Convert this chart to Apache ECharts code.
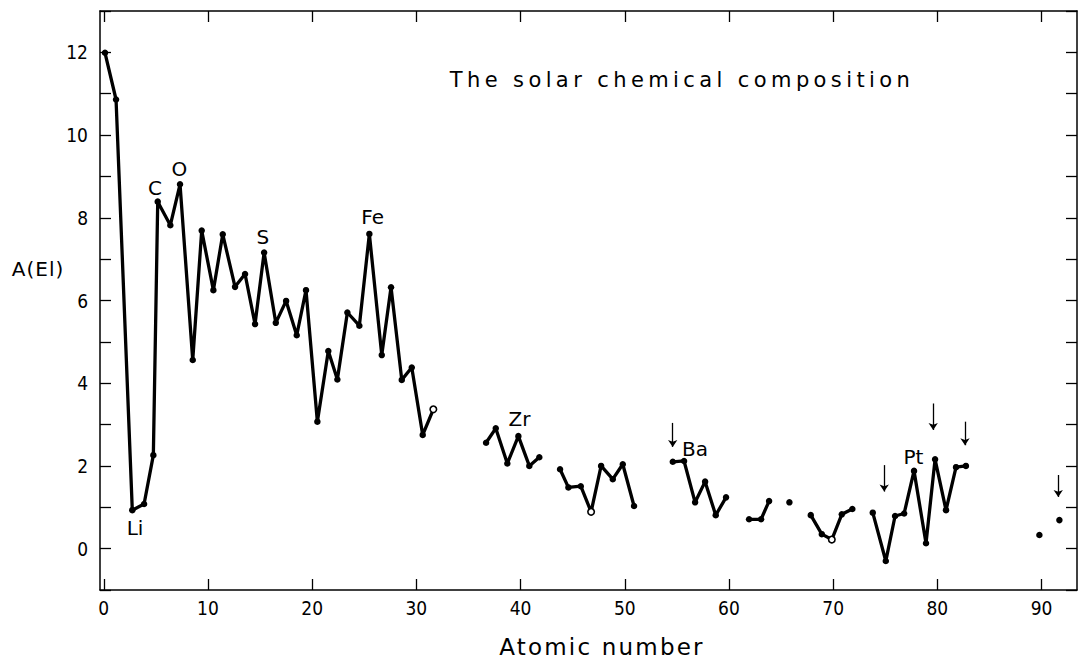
<!DOCTYPE html>
<html>
<head>
<meta charset="utf-8">
<script src="https://cdn.jsdelivr.net/npm/echarts@6/dist/echarts.min.js"></script>
<style>
html,body{margin:0;padding:0;background:#fff;}
#c{width:1079px;height:661px;}
</style>
</head>
<body>
<div id="c"></div>
<script>
// Atomic number positions (null = gap in the curve)
const atomicNumber = [
  0.12, 1.18, 2.74, 3.87, 4.76, 5.18, 6.39, 7.32, 8.54, 9.40,
  10.52, 11.42, 12.60, 13.56, 14.52, 15.39, 16.51, 17.50, 18.52, 19.41,
  20.50, 21.55, 22.42, 23.38, 24.53, 25.49, 26.68, 27.57, 28.60, 29.56,
  30.61, 31.63, null,
  36.69, 37.62, 38.73, 39.79, 40.84, 41.80, null,
  43.79, 44.59, 45.78, 46.77, 47.73, 48.85, 49.81, 50.89, null,
  54.61, 55.69, 56.75, 57.71, 58.73, 59.72, null,
  61.93, 63.08, 63.85, null,
  65.80, null,
  67.85, 68.91, 69.87, 70.83, 71.84, null,
  73.80, 75.05, 75.94, 76.81, 77.76, 78.91, 79.78, 80.83, 81.79, 82.74, null,
  89.79, null,
  91.71
];
const abundance = [
  11.99, 10.86, 0.93, 1.08, 2.26, 8.39, 7.82, 8.81, 4.56, 7.69,
  6.25, 7.60, 6.33, 6.64, 5.43, 7.16, 5.46, 5.99, 5.16, 6.25,
  3.07, 4.78, 4.09, 5.71, 5.39, 7.61, 4.68, 6.32, 4.08, 4.38,
  2.75, 3.37, null,
  2.56, 2.91, 2.06, 2.72, 2.00, 2.21, null,
  1.92, 1.48, 1.51, 0.89, 2.00, 1.68, 2.04, 1.03, null,
  2.10, 2.12, 1.12, 1.62, 0.81, 1.24, null,
  0.71, 0.71, 1.15, null,
  1.12, null,
  0.81, 0.35, 0.22, 0.83, 0.96, null,
  0.87, -0.30, 0.79, 0.85, 1.88, 0.13, 2.16, 0.93, 1.97, 2.00, null,
  0.33, null,
  0.69
];
// points drawn as open circles
const hollowPoints = [31.63, 46.77, 69.87];

const xTicks = [0, 10, 20, 30, 40, 50, 60, 70, 80, 90];

const labelNames = ['C', 'O', 'S', 'Fe', 'Li', 'Zr', 'Ba', 'Pt'];
const labelX = [4.92, 7.26, 15.26, 25.8, 3.0, 39.9, 56.75, 77.7];
const labelY = [8.71, 9.19, 7.53, 8.02, 0.5, 3.13, 2.42, 2.22];

const arrowX = [54.6, 74.9, 79.6, 82.65, 91.6];
const arrowFrom = [3.04, 2.02, 3.51, 3.07, 1.78];
const arrowTo = [2.46, 1.38, 2.87, 2.50, 1.25];

const INK = '#000';
const FONT = '"DejaVu Sans", "Noto Sans", sans-serif';
const TICKFONT = '"DejaVu Sans Condensed", "DejaVu Sans", sans-serif';

// build curve segments
const segments = [];
let cur = [];
atomicNumber.forEach((x, i) => {
  if (x === null) {
    if (cur.length) segments.push(cur);
    cur = [];
  } else {
    const y = abundance[i];
    if (hollowPoints.includes(x)) {
      cur.push({ value: [x, y], itemStyle: { color: '#fff', borderColor: INK, borderWidth: 1.6 } });
    } else {
      cur.push([x, y]);
    }
  }
});
if (cur.length) segments.push(cur);

const lineSeries = segments.map(seg => ({
  type: 'line',
  data: seg,
  symbol: 'circle',
  symbolSize: 6.5,
  showSymbol: true,
  showAllSymbol: true,
  lineStyle: { color: INK, width: 3.3 },
  itemStyle: { color: INK },
  silent: true,
  z: 3
}));

const axisLineStyle = { show: true, onZero: false, lineStyle: { color: INK, width: 1.5 } };
const tickStyle = { color: INK, width: 1.3 };

const option = {
  animation: false,
  backgroundColor: '#fff',
  grid: { left: 100, right: 2, top: 11, bottom: 71, containLabel: false },
  xAxis: [
    {
      type: 'value', min: -0.36, max: 93.4, position: 'bottom',
      axisLine: axisLineStyle,
      axisTick: { show: true, inside: true, length: 11, customValues: xTicks, lineStyle: tickStyle },
      axisLabel: { show: true, customValues: xTicks, color: INK, fontSize: 19, fontFamily: TICKFONT, margin: 8 },
      splitLine: { show: false }
    },
    {
      type: 'value', min: -0.36, max: 93.4, position: 'top',
      axisLine: axisLineStyle,
      axisTick: { show: true, inside: true, length: 11, customValues: xTicks, lineStyle: tickStyle },
      axisLabel: { show: false },
      splitLine: { show: false }
    }
  ],
  yAxis: [
    {
      type: 'value', min: -1, max: 13, interval: 1, position: 'left',
      axisLine: axisLineStyle,
      axisTick: { show: true, inside: true, length: 11, lineStyle: tickStyle },
      axisLabel: {
        show: true, color: INK, fontSize: 19, fontFamily: TICKFONT, margin: 12,
        formatter: v => (v % 2 === 0 && v >= 0 && v <= 12) ? String(v) : ''
      },
      splitLine: { show: false }
    },
    {
      type: 'value', min: -1, max: 13, interval: 1, position: 'right',
      axisLine: axisLineStyle,
      axisTick: { show: true, inside: true, length: 11, lineStyle: tickStyle },
      axisLabel: { show: false },
      splitLine: { show: false }
    }
  ],
  graphic: [
    { type: 'text', x: 682, y: 80, silent: true,
      style: { text: 'The solar chemical composition', fill: INK, fontSize: 21, fontFamily: FONT,
               align: 'center', verticalAlign: 'middle', textAlign: 'center', textVerticalAlign: 'middle' } },
    { type: 'text', x: 602, y: 647, silent: true,
      style: { text: 'Atomic number', fill: INK, fontSize: 23, fontFamily: FONT,
               align: 'center', verticalAlign: 'middle', textAlign: 'center', textVerticalAlign: 'middle' } },
    { type: 'text', x: 38, y: 269, silent: true,
      style: { text: 'A(El)', fill: INK, fontSize: 20, fontFamily: FONT,
               align: 'center', verticalAlign: 'middle', textAlign: 'center', textVerticalAlign: 'middle' } }
  ],
  series: lineSeries.concat([
    {
      type: 'scatter',
      data: labelNames.map((n, i) => ({ name: n, value: [labelX[i], labelY[i]] })),
      symbolSize: 1,
      itemStyle: { color: 'rgba(255,255,255,0)' },
      label: { show: true, position: 'inside', formatter: '{b}', color: INK, opacity: 1,
               textBorderWidth: 0, fontSize: 20, fontFamily: FONT },
      silent: true,
      z: 4,
      markLine: {
        silent: true,
        symbol: ['none', 'arrow'],
        symbolSize: 7,
        label: { show: false },
        lineStyle: { color: INK, width: 1.3, type: 'solid' },
        emphasis: { disabled: true },
        data: arrowX.map((x, i) => [{ coord: [x, arrowFrom[i]] }, { coord: [x, arrowTo[i]] }])
      }
    }
  ])
};

const el = document.getElementById('c');
const chart = echarts.init(el, null, { renderer: 'svg' });
chart.setOption(option);

const spacing = { 'The solar chemical composition': 4.4, 'Atomic number': 2.2, 'A(El)': 1 };
function applySpacing() {
  el.querySelectorAll('text').forEach(t => {
    const s = spacing[t.textContent];
    if (s) t.style.letterSpacing = s + 'px';
  });
}
chart.on('finished', applySpacing);
setTimeout(applySpacing, 0);
setTimeout(applySpacing, 50);
</script>
</body>
</html>
